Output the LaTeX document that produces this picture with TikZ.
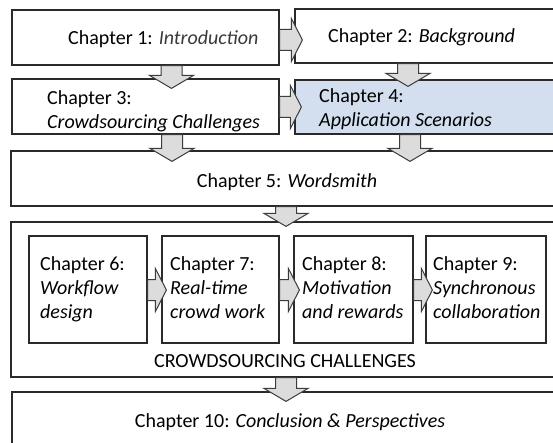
\documentclass[tikz,border=0pt]{standalone}
\usepackage{fontspec}
\setmainfont{Carlito}
\usetikzlibrary{calc,fit}

\definecolor{edge}{HTML}{2A2A2A}
\definecolor{arrowfill}{HTML}{DCDCDC}
\definecolor{arrowedge}{HTML}{3C3C3C}
\definecolor{paleblue}{HTML}{D3DFEF}
\definecolor{softtext}{HTML}{3A3A3A}

\tikzset{
  box/.style={draw=edge, line width=1.2pt, fill=white, inner sep=0pt},
  % multi-line labels are placed by the baseline of their last line
  txt/.style={inner sep=0pt, anchor=base west, align=left,
              font=\fontsize{20}{24}\selectfont},
  ctxt/.style={inner sep=0pt, anchor=base,
              font=\fontsize{20}{24}\selectfont},
  blockarrow/.style={draw=arrowedge, fill=arrowfill, line width=1pt, line join=miter}
}

% downward block arrow: from #1.south to just inside #2.north, at x = #3, overshoot #4
\newcommand\vblock[4]{%
  \draw[blockarrow] let \p1=(#1.south), \p2=(#2.north) in
    (#3pt-10.5pt,\y1) -- (#3pt+10.5pt,\y1) -- (#3pt+10.5pt,\y2-#4pt+13pt)
    -- (#3pt+22pt,\y2-#4pt+13pt) -- (#3pt,\y2-#4pt) -- (#3pt-22pt,\y2-#4pt+13pt)
    -- (#3pt-10.5pt,\y2-#4pt+13pt) -- cycle;}

% rightward block arrow: from #1.east to just inside #2.west, at y = #3 (from top), overshoot #4
\newcommand\hblock[4]{%
  \draw[blockarrow] let \p1=(#1.east), \p2=(#2.west) in
    (\x1,-#3pt+10.5pt) -- (\x2+#4pt-11pt,-#3pt+10.5pt) -- (\x2+#4pt-11pt,-#3pt+21.5pt)
    -- (\x2+#4pt,-#3pt) -- (\x2+#4pt-11pt,-#3pt-21.5pt) -- (\x2+#4pt-11pt,-#3pt-10.5pt)
    -- (\x1,-#3pt-10.5pt) -- cycle;}

\begin{document}
\begin{tikzpicture}[x=1pt, y=-1pt]
  \useasboundingbox[fill=white] (0,0) rectangle (553,443);
  \clip (0,0) rectangle (553,443);

  % top rows
  \node[box, fit={(12,10) (279,65)}] (b1) {};
  \node[box, fit={(295,9) (565,63)}] (b2) {};
  \node[box, fit={(12,79) (279,134)}] (b3) {};
  \node[box, fill=paleblue, fit={(295,80) (565,134)}] (b4) {};
  \node[box, fit={(11,151) (565,206)}] (b5) {};

  % crowdsourcing group and its chapters
  \node[box, fit={(11,222) (565,377)}] (cs) {};
  \node[box, fit={(29,236) (147,343)}] (b6) {};
  \node[box, fit={(162,236) (279,343)}] (b7) {};
  \node[box, fit={(294,236) (413,343)}] (b8) {};
  \node[box, fit={(426,236) (546,343)}] (b9) {};

  \node[box, fit={(12,392) (565,470)}] (b10) {};

  % block arrows
  \hblock{b1}{b2}{40}{8}
  \hblock{b3}{b4}{107}{7}
  \vblock{b1}{b3}{171.5}{10}
  \vblock{b2}{b4}{408}{7}
  \vblock{b3}{b5}{172}{11}
  \vblock{b4}{b5}{410}{11}
  \vblock{b5}{cs}{286}{5}
  \hblock{b6}{b7}{290}{5}
  \hblock{b7}{b8}{290}{6}
  \hblock{b8}{b9}{290}{7}
  \vblock{cs}{b10}{286}{10}

  % labels
  \node[txt] (t1) at (68,45) {Chapter 1: \textcolor{softtext}{\itshape Introduction}};
  \node[txt] (t2) at (328,43) {Chapter 2: \textit{Background}};
  \node[txt] (t3) at (47,129) {Chapter 3:\\\textit{Crowdsourcing Challenges}};
  \node[txt] (t4) at (319,127) {Chapter 4:\\\textit{Application Scenarios}};
  \node[ctxt] (t5) at (287,188) {Chapter 5: \textit{Wordsmith}};
  \node[txt] (t6) at (40,318) {Chapter 6:\\\textit{Workflow}\\\textit{design}};
  \node[txt] (t7) at (170,318) {Chapter 7:\\\textit{Real-time}\\\textit{crowd work}};
  \node[txt] (t8) at (302,318) {Chapter 8:\\\textit{Motivation}\\\textit{and rewards}};
  \node[txt] (t9) at (433,318) {Chapter 9:\\\textit{Synchronous}\\\textit{collaboration}};
  \node[ctxt] (tcs) at (285,367) {CROWDSOURCING CHALLENGES};
  \node[ctxt] (t10) at (290,427) {Chapter 10: \textit{Conclusion \& Perspectives}};
\end{tikzpicture}
\end{document}
